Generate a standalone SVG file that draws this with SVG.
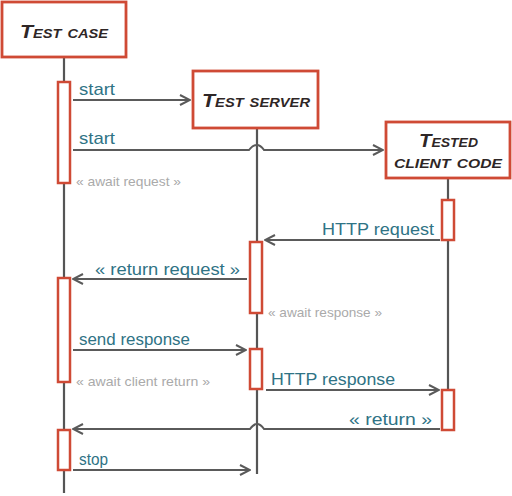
<svg xmlns="http://www.w3.org/2000/svg" width="512" height="496" viewBox="0 0 512 496">
<style>
.box{fill:#fff;stroke:#cf4a35;stroke-width:2.8}
.act{fill:#fff;stroke:#cf4a35;stroke-width:2.5}
.life{stroke:#555;stroke-width:2.2;fill:none}
.msg{stroke:#5a5a5a;stroke-width:2;fill:none;marker-end:url(#arr)}
.title{font-family:"Liberation Sans",Arial,sans-serif;font-weight:bold;font-style:italic;font-variant:small-caps;font-size:19px;fill:#2e2626;text-anchor:start}
.lbl{font-family:"Liberation Sans",Arial,sans-serif;font-size:17px;fill:#2f7385}
.note{font-family:"Liberation Sans",Arial,sans-serif;font-size:13px;fill:#aaa}
</style>
<defs>
<marker id="arr" viewBox="0 0 12 12" refX="11" refY="6" markerWidth="12" markerHeight="12" markerUnits="userSpaceOnUse" orient="auto">
<path d="M1,1 L11,6 L1,11" fill="none" stroke="#5a5a5a" stroke-width="2"/>
</marker>
</defs>
<g id="lifelines">
<line class="life" x1="64" y1="57" x2="64" y2="493"/>
<line class="life" x1="257" y1="128" x2="257" y2="474"/>
<line class="life" x1="448" y1="178" x2="448" y2="430"/>
</g>
<g id="test-case">
<rect class="box" x="2" y="2" width="124" height="55"/>
<text class="title" x="20" y="38" textLength="88" lengthAdjust="spacingAndGlyphs">Test case</text>
</g>
<g id="test-server">
<rect class="box" x="193" y="71" width="125" height="57"/>
<text class="title" x="202" y="107" textLength="108" lengthAdjust="spacingAndGlyphs">Test server</text>
</g>
<g id="tested-client-code">
<rect class="box" x="386" y="122" width="124" height="56"/>
<text class="title" x="419" y="147" textLength="59" lengthAdjust="spacingAndGlyphs">Tested</text>
<text class="title" x="394" y="168" textLength="108" lengthAdjust="spacingAndGlyphs">client code</text>
</g>
<g id="activations">
<rect class="act" x="58" y="82" width="12" height="101"/>
<rect class="act" x="58" y="278" width="12" height="104"/>
<rect class="act" x="58" y="430" width="12" height="40"/>
<rect class="act" x="250" y="242" width="12" height="71"/>
<rect class="act" x="250" y="349" width="12" height="40"/>
<rect class="act" x="442" y="200" width="12" height="40"/>
<rect class="act" x="442" y="390" width="12" height="40"/>
</g>
<g id="connectors">
<path class="msg" d="M73,100 H190"/>
<path class="msg" d="M73,150 H249 Q257,140 264,150 H383"/>
<path class="msg" d="M440,240 H265"/>
<path class="msg" d="M247,279 H73"/>
<path class="msg" d="M73,350 H246"/>
<path class="msg" d="M266,390 H439"/>
<path class="msg" d="M440,429 H264 Q257,419 250,429 H73"/>
<path class="msg" d="M73,470 H250"/>
</g>
<g id="labels">
<text class="lbl" x="79" y="95" textLength="36" lengthAdjust="spacingAndGlyphs">start</text>
<text class="lbl" x="79" y="144" textLength="36" lengthAdjust="spacingAndGlyphs">start</text>
<text class="note" x="76" y="186" textLength="105" lengthAdjust="spacingAndGlyphs">« await request »</text>
<text class="lbl" x="322" y="235" textLength="112" lengthAdjust="spacingAndGlyphs">HTTP request</text>
<text class="lbl" x="95" y="275" textLength="145" lengthAdjust="spacingAndGlyphs">« return request »</text>
<text class="note" x="268" y="317" textLength="114" lengthAdjust="spacingAndGlyphs">« await response »</text>
<text class="lbl" x="79" y="345" textLength="111" lengthAdjust="spacingAndGlyphs">send response</text>
<text class="note" x="76" y="386" textLength="134" lengthAdjust="spacingAndGlyphs">« await client return »</text>
<text class="lbl" x="271" y="385" textLength="124" lengthAdjust="spacingAndGlyphs">HTTP response</text>
<text class="lbl" x="349" y="425" textLength="83" lengthAdjust="spacingAndGlyphs">« return »</text>
<text class="lbl" x="79" y="465" textLength="29" lengthAdjust="spacingAndGlyphs">stop</text>
</g>
</svg>
